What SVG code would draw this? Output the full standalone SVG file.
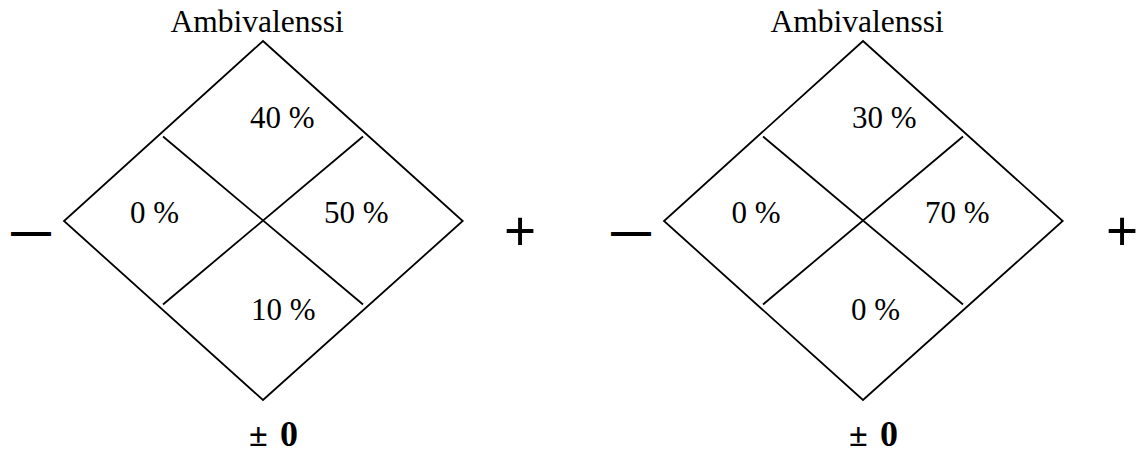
<svg xmlns="http://www.w3.org/2000/svg" width="1143" height="452" viewBox="0 0 1143 452">
<style>
.frame{fill:none;stroke:#000;stroke-width:1.8}
.div{stroke:#000;stroke-width:1.8}
.t{font-family:"Liberation Serif","Times New Roman",serif;font-size:31px;fill:#000}
.title{font-family:"Liberation Serif","Times New Roman",serif;font-size:31.5px;fill:#000}
.sign{font-family:"Liberation Sans",Arial,sans-serif;fill:#000}
.zero{font-family:"Liberation Serif","Times New Roman",serif;font-weight:bold;fill:#000}
</style>
<rect width="1143" height="452" fill="#fff"/>
<g id="diagram1">
  <text class="title" x="170.5" y="31.7">Ambivalenssi</text>
  <polygon class="frame" points="263,41 462.7,221 263,400 64,221"/>
  <line class="div" x1="163" y1="136.5" x2="363" y2="304.5"/>
  <line class="div" x1="363" y1="136.5" x2="163" y2="304.5"/>
  <text class="t" x="250" y="127.5">40 %</text>
  <text class="t" x="130" y="223">0 %</text>
  <text class="t" x="324" y="222.7">50 %</text>
  <text class="t" x="251" y="320">10 %</text>
  <text class="sign" x="11" y="245" font-size="40" font-weight="bold">—</text>
  <text class="sign" x="504" y="249.7" font-size="55">+</text>
  <text class="zero" y="446"><tspan x="249" font-size="34">±</tspan><tspan x="280" font-size="36">0</tspan></text>
</g>
<g id="diagram2">
  <text class="title" x="770.5" y="31.7">Ambivalenssi</text>
  <polygon class="frame" points="863,41 1062.7,221 863,400 664,221"/>
  <line class="div" x1="763" y1="136.5" x2="963" y2="304.5"/>
  <line class="div" x1="963" y1="136.5" x2="763" y2="304.5"/>
  <text class="t" x="852" y="127.5">30 %</text>
  <text class="t" x="731.5" y="223">0 %</text>
  <text class="t" x="925" y="222.7">70 %</text>
  <text class="t" x="851" y="320">0 %</text>
  <text class="sign" x="611" y="245" font-size="40" font-weight="bold">—</text>
  <text class="sign" x="1106" y="249.7" font-size="55">+</text>
  <text class="zero" y="446"><tspan x="849" font-size="34">±</tspan><tspan x="880" font-size="36">0</tspan></text>
</g>
</svg>
